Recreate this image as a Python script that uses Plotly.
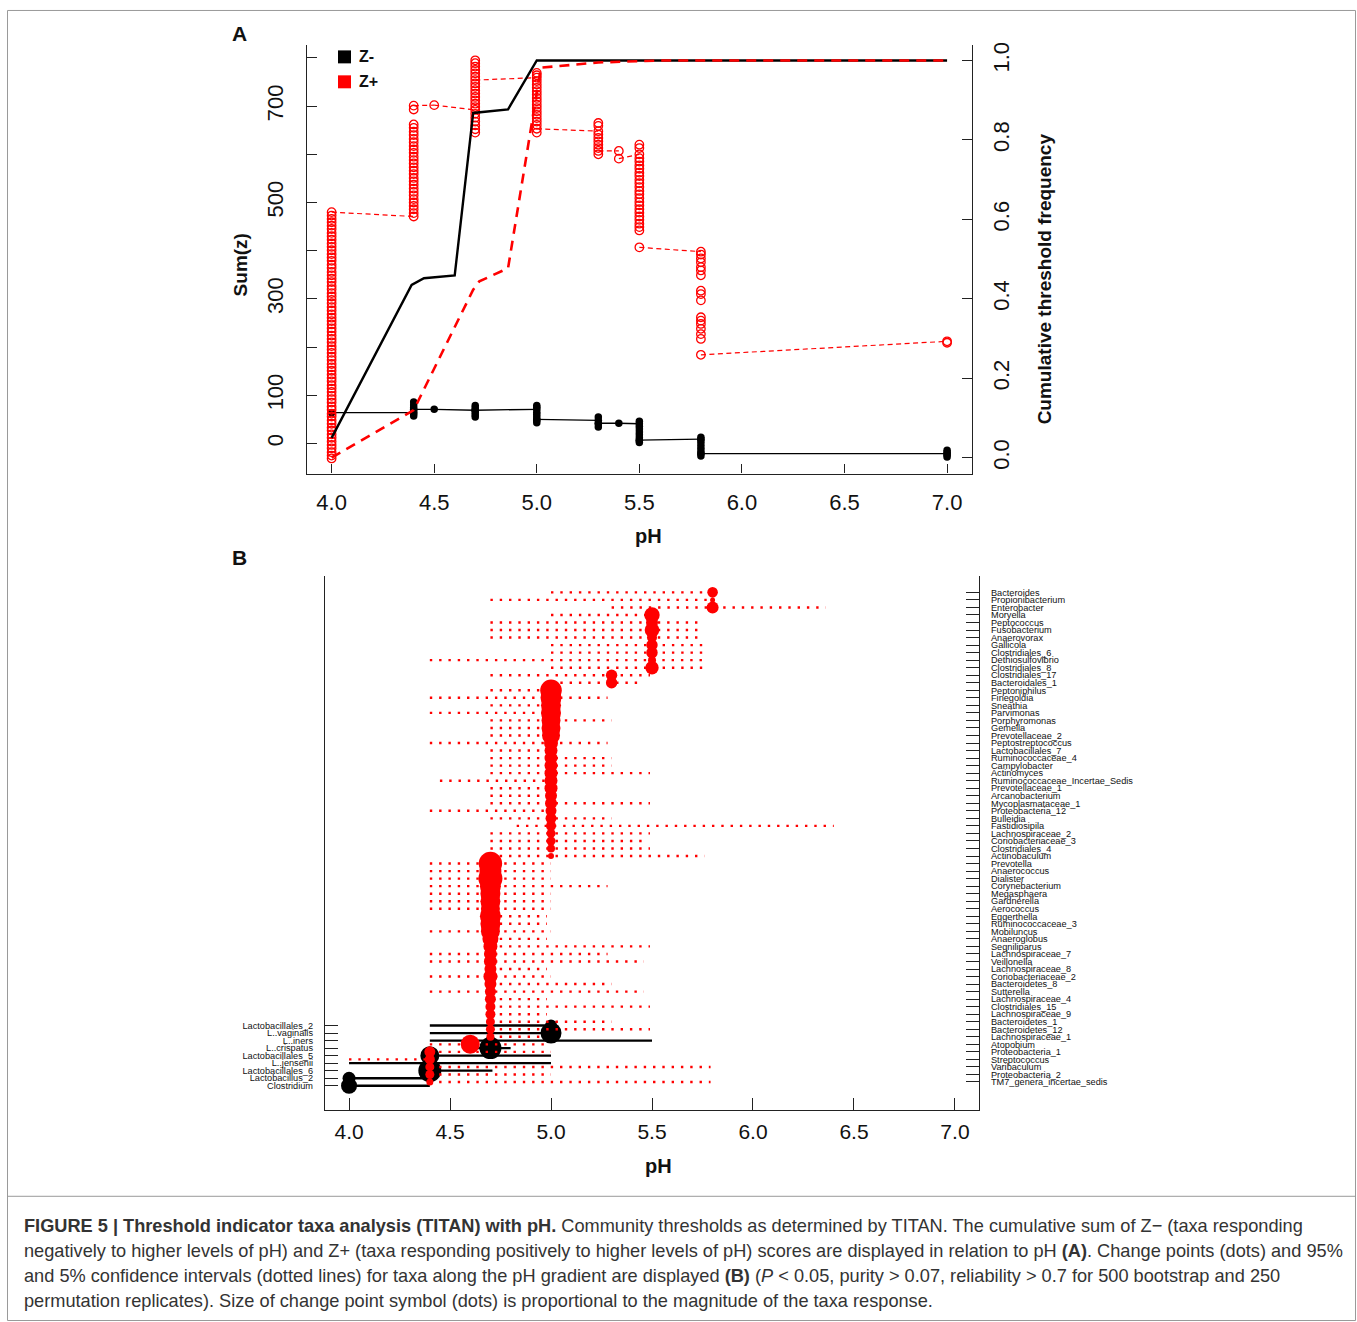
import plotly.graph_objects as go

W, H = 1357, 1322

# ---------------- Panel A data ----------------
ph_levels = [4.0, 4.4, 4.5, 4.7, 5.0, 5.3, 5.4, 5.5, 5.8, 7.0]

zplus_sumz = [
    [-31, -25, -18, -10, -3, 4, 12, 19, 27, 33, 41, 48, 56, 62, 70, 77, 85, 92, 99, 107, 114, 121,
     129, 136, 143, 151, 158, 165, 173, 180, 188, 195, 202, 210, 217, 224, 232, 239, 247, 254, 261,
     268, 276, 283, 291, 298, 305, 312, 320, 327, 335, 342, 349, 356, 364, 371, 379, 386, 393, 401,
     408, 415, 423, 430, 437, 445, 452, 459, 466, 473, 480],
    [471, 478, 486, 493, 500, 507, 515, 522, 529, 537, 544, 551, 559, 566, 573, 581, 588, 595, 603,
     610, 617, 625, 632, 640, 647, 655, 662, 693, 701],
    [702],
    [692, 684, 676, 668, 660, 652, 645, 698, 705, 712, 719, 726, 733, 740, 747, 761, 768, 775, 782,
     789, 795, 754],
    [759, 769, 764, 752, 745, 738, 731, 724, 717, 710, 703, 696, 689, 682, 675, 668, 661, 645, 653],
    [648, 665, 659, 641, 634, 627, 620, 613, 600, 607],
    [607, 591],
    [600, 620, 613, 592, 585, 577, 570, 562, 555, 547, 540, 532, 524, 517, 509, 501, 494, 486, 479,
     471, 464, 456, 449, 442, 407],
    [398, 392, 384, 376, 366, 359, 349, 317, 310, 297, 262, 255, 248, 238, 227, 217, 184],
    [212, 209],
]

zminus_sumz = [
    [64],
    [64, 57, 62, 68, 74, 80, 86, 71],
    [71],
    [69, 79, 74, 64, 59, 55, 69],
    [71, 79, 75, 65, 60, 55, 48, 43, 50],
    [48, 55, 41, 34, 42],
    [42],
    [41, 46, 36, 30, 24, 18, 12, 6, 2, 7],
    [9, 13, 5, -1, -7, -13, -19, -26, -21],
    [-21, -14, -18, -24, -28],
]

cum_minus_ph = [4.0, 4.39, 4.45, 4.60, 4.69, 4.86, 5.0, 7.0]
cum_minus_freq = [0.05, 0.435, 0.452, 0.459, 0.868, 0.877, 1.0, 1.0]
cum_plus_ph = [4.0, 4.4, 4.69, 4.72, 4.86, 5.02, 5.3, 5.6, 7.0]
cum_plus_freq = [0.0, 0.12, 0.423, 0.444, 0.477, 0.982, 0.995, 1.0, 1.0]

sumz_ticks = [0, 100, 200, 300, 400, 500, 600, 700, 800]
sumz_ticktext = ["0", "100", "", "300", "", "500", "", "700", ""]
freq_ticks = [0.0, 0.2, 0.4, 0.6, 0.8, 1.0]
ph_ticks = [4.0, 4.5, 5.0, 5.5, 6.0, 6.5, 7.0]

# ---------------- Panel B data ----------------
red_taxa = [
    "Bacteroides", "Propionibacterium", "Enterobacter", "Moryella", "Peptococcus", "Fusobacterium",
    "Anaerovorax", "Gallicola", "Clostridiales_6", "Dethiosulfovibrio", "Clostridiales_8",
    "Clostridiales_17", "Bacteroidales_1", "Peptoniphilus", "Finegoldia", "Sneathia", "Parvimonas",
    "Porphyromonas", "Gemella", "Prevotellaceae_2", "Peptostreptococcus", "Lactobacillales_7",
    "Ruminococcaceae_4", "Campylobacter", "Actinomyces", "Ruminococcaceae_Incertae_Sedis",
    "Prevotellaceae_1", "Arcanobacterium", "Mycoplasmataceae_1", "Proteobacteria_12", "Bulleidia",
    "Fastidiosipila", "Lachnospiraceae_2", "Coriobacteriaceae_3", "Clostridiales_4", "Actinobaculum",
    "Prevotella", "Anaerococcus", "Dialister", "Corynebacterium", "Megasphaera", "Gardnerella",
    "Aerococcus", "Eggerthella", "Ruminococcaceae_3", "Mobiluncus", "Anaeroglobus", "Segniliparus",
    "Lachnospiraceae_7", "Veillonella", "Lachnospiraceae_8", "Coriobacteriaceae_2", "Bacteroidetes_8",
    "Sutterella", "Lachnospiraceae_4", "Clostridiales_15", "Lachnospiraceae_9", "Bacteroidetes_1",
    "Bacteroidetes_12", "Lachnospiraceae_1", "Atopobium", "Proteobacteria_1", "Streptococcus",
    "Varibaculum", "Proteobacteria_2", "TM7_genera_incertae_sedis",
]
red_cp = ([5.8] * 3 + [5.5] * 8 + [5.3] * 2 + [5.0] * 23 + [4.7] * 24 + [4.6] + [4.4] * 5)
red_lo = [5.0, 4.7, 5.3, 5.0, 4.7, 4.7, 4.7, 5.0, 5.0, 4.4, 5.0, 4.7, 5.0,
          4.7, 4.4, 4.7, 4.4, 4.7, 4.7, 4.7, 4.4, 4.7, 4.7, 4.7, 4.7, 4.45, 4.7, 4.7, 4.7, 4.4,
          4.7, 4.83, 4.7, 4.7, 4.7, 4.7,
          4.4, 4.4, 4.4, 4.4, 4.4, 4.4, 4.4, 4.7, 4.7, 4.4, 4.7, 4.7, 4.4, 4.4, 4.7, 4.4, 4.7,
          4.4, 4.7, 4.7, 4.7, 4.7, 4.7, 4.7,
          4.4, 4.4, 4.0, 4.4, 4.4, 4.4]
red_hi = [5.8, 5.8, 6.36, 5.5, 5.75, 5.75, 5.75, 5.78, 5.78, 5.75, 5.75, 5.49, 5.45,
          5.0, 5.28, 5.0, 5.0, 5.3, 5.0, 5.0, 5.28, 5.0, 5.3, 5.3, 5.49, 5.0, 5.0, 5.0, 5.49, 5.0,
          5.3, 6.40, 5.49, 5.46, 5.49, 5.76,
          5.0, 5.0, 5.0, 5.28, 5.0, 5.0, 5.0, 4.98, 4.98, 5.0, 4.98, 5.49, 5.28, 5.46, 4.98, 5.0,
          5.3, 5.46, 4.98, 5.49, 4.98, 5.3, 5.49, 4.97,
          4.97, 5.0, 4.4, 5.79, 5.0, 5.79]
# magnitude of taxon response (symbol radius units)
red_resp = [5.3, 2.5, 6.0, 7.7, 6.0, 7.3, 5.0, 5.7, 5.7, 4.0, 6.7, 5.7, 5.7,
            10.8, 10.5, 10.0, 10.0, 9.5, 9.5, 9.0, 7.0, 6.5, 6.5, 6.5, 6.5, 6.5, 6.5, 6.0, 6.0,
            5.5, 5.5, 5.0, 4.5, 4.5, 4.0, 3.0,
            11.7, 11.0, 12.0, 10.5, 10.0, 10.0, 9.5, 10.5, 10.0, 9.5, 8.0, 7.0, 6.5, 6.5, 6.0,
            7.0, 6.0, 5.5, 5.5, 5.0, 5.0, 4.5, 4.5, 4.0,
            9.5, 5.5, 5.0, 4.5, 4.5, 3.5]

black_taxa = ["Lactobacillales_2", "L..vaginalis", "L..iners", "L..crispatus", "Lactobacillales_5",
              "L..jensenii", "Lactobacillales_6", "Lactobacillus_2", "Clostridium"]
black_cp = [5.0, 5.0, 4.7, 4.7, 4.4, 4.4, 4.4, 4.0, 4.0]
black_lo = [4.4, 4.4, 4.4, 4.6, 4.4, 4.0, 4.4, 4.0, 4.0]
black_hi = [5.0, 5.0, 5.5, 4.8, 5.0, 5.0, 4.71, 4.4, 4.4]
black_resp = [6.0, 10.5, 5.0, 11.0, 9.5, 6.0, 11.5, 6.5, 8.0]

# ---------------- helpers ----------------
def px_x(px):
    return px / W

def px_y(py):
    return 1 - py / H

fig = go.Figure()

def connectors(stacks):
    xs, ys = [], []
    for i in range(len(stacks) - 1):
        xs += [ph_levels[i], ph_levels[i + 1], None]
        ys += [stacks[i][-1], stacks[i + 1][0], None]
    return xs, ys

cx, cy = connectors(zplus_sumz)
fig.add_trace(go.Scatter(x=cx, y=cy, mode="lines", xaxis="x", yaxis="y",
                         line=dict(color="#ff0000", width=1.2, dash="5px,3.5px"),
                         showlegend=False, hoverinfo="skip"))
cx, cy = connectors(zminus_sumz)
fig.add_trace(go.Scatter(x=cx, y=cy, mode="lines", xaxis="x", yaxis="y",
                         line=dict(color="#000000", width=1.3),
                         showlegend=False, hoverinfo="skip"))

bx, by = [], []
for p, vals in zip(ph_levels, zminus_sumz):
    bx += [p] * len(vals)
    by += vals
fig.add_trace(go.Scatter(x=bx, y=by, mode="markers", xaxis="x", yaxis="y",
                         marker=dict(symbol="circle", size=7.5, color="#000000", opacity=1),
                         showlegend=False))
rx, ry = [], []
for p, vals in zip(ph_levels, zplus_sumz):
    rx += [p] * len(vals)
    ry += vals
fig.add_trace(go.Scatter(x=rx, y=ry, mode="markers", xaxis="x", yaxis="y",
                         marker=dict(symbol="circle-open", size=8.5, color="#ff0000", opacity=1,
                                     line=dict(width=1.3, color="#ff0000")),
                         showlegend=False))

fig.add_trace(go.Scatter(x=cum_minus_ph, y=cum_minus_freq, mode="lines", xaxis="x", yaxis="y2",
                         line=dict(color="#000000", width=2.4), showlegend=False))
fig.add_trace(go.Scatter(x=cum_plus_ph, y=cum_plus_freq, mode="lines", xaxis="x", yaxis="y2",
                         line=dict(color="#ff0000", width=2.6, dash="10px,7px"), showlegend=False))

# Panel B
red_pos = list(range(1, len(red_taxa) + 1))
black_pos = [len(red_taxa) - len(black_taxa) + 1.5 + j for j in range(len(black_taxa))]

dx, dy = [], []
for lo, hi, pos in zip(red_lo, red_hi, red_pos):
    dx += [lo, hi, None]
    dy += [pos, pos, None]
fig.add_trace(go.Scatter(x=dx, y=dy, mode="lines", xaxis="x2", yaxis="y4",
                         line=dict(color="#ff0000", width=2.4, dash="2.4px,6.9px"),
                         showlegend=False, hoverinfo="skip"))
lx, ly = [], []
for lo, hi, pos in zip(black_lo, black_hi, black_pos):
    lx += [lo, hi, None]
    ly += [pos, pos, None]
fig.add_trace(go.Scatter(x=lx, y=ly, mode="lines", xaxis="x2", yaxis="y3",
                         line=dict(color="#000000", width=2.3),
                         showlegend=False, hoverinfo="skip"))
fig.add_trace(go.Scatter(x=black_cp, y=black_pos, mode="markers", xaxis="x2", yaxis="y3",
                         marker=dict(symbol="circle", color="#000000", opacity=1,
                                     size=[2 * r for r in black_resp], line=dict(width=0)),
                         showlegend=False))
fig.add_trace(go.Scatter(x=red_cp, y=red_pos, mode="markers", xaxis="x2", yaxis="y4",
                         marker=dict(symbol="circle", color="#ff0000", opacity=1,
                                     size=[2 * r for r in red_resp], line=dict(width=0)),
                         showlegend=False))

axis_common = dict(showgrid=False, zeroline=False, showline=True, linecolor="#222222",
                   linewidth=1.3, ticks="inside", tickcolor="#222222", tickwidth=1.3)
tick_font = dict(family="Liberation Sans, Arial, sans-serif", size=22, color="#111111")
taxa_font = dict(family="Liberation Sans, Arial, sans-serif", size=9.2, color="#111111")

yB_range = [1 + (1109.3 - 590.7) / 7.55, 1 - (590.7 - 574) / 7.55]

fig.update_layout(
    width=W, height=H, autosize=False,
    margin=dict(l=0, r=0, t=0, b=0),
    paper_bgcolor="white", plot_bgcolor="white",
    showlegend=False,
    xaxis=dict(domain=[px_x(307), px_x(971.7)], range=[3.88, 7.12], anchor="y",
               tickvals=ph_ticks, ticktext=[f"{v:.1f}" for v in ph_ticks], ticklen=9,
               tickfont=tick_font, ticklabelstandoff=9, **axis_common),
    yaxis=dict(domain=[px_y(471.7), px_y(41.7)], range=[-62.5, 827.6], anchor="x",
               tickvals=sumz_ticks, ticktext=sumz_ticktext, ticklen=10, tickangle=-90,
               tickfont=tick_font, ticklabelstandoff=14, **axis_common),
    yaxis2=dict(overlaying="y", side="right", anchor="x", range=[-0.04, 1.04],
                tickvals=freq_ticks, ticktext=[f"{v:.1f}" for v in freq_ticks], ticklen=10,
                tickangle=-90, tickfont=tick_font, ticklabelstandoff=10, **axis_common),
    xaxis2=dict(domain=[px_x(325), px_x(979)], range=[3.881, 7.119], anchor="y3",
                tickvals=ph_ticks, ticktext=[f"{v:.1f}" for v in ph_ticks], ticklen=12,
                tickfont=dict(family="Liberation Sans, Arial, sans-serif", size=21, color="#111111"),
                ticklabelstandoff=3, **axis_common),
    yaxis3=dict(domain=[px_y(1109.3), px_y(574)], range=yB_range, anchor="x2", side="left",
                tickvals=black_pos, ticktext=black_taxa, ticklen=13, tickfont=taxa_font,
                ticklabelstandoff=9, **axis_common),
    yaxis4=dict(overlaying="y3", side="right", anchor="x2", range=yB_range,
                tickvals=red_pos, ticktext=red_taxa, ticklen=13, tickfont=taxa_font,
                ticklabelstandoff=9, **axis_common),
)

ann_font = "Liberation Sans, Arial, sans-serif"
def ann(text, x, y, size, rot=0, bold=True, xanchor="center", color="#111111"):
    fig.add_annotation(text=f"<b>{text}</b>" if bold else text, x=px_x(x), y=px_y(y),
                       xref="paper", yref="paper", showarrow=False, textangle=rot,
                       xanchor=xanchor, yanchor="middle",
                       font=dict(family=ann_font, size=size, color=color))

ann("A", 239, 31, 21)
ann("B", 239, 556, 21)
ann("Sum(z)", 240, 263, 19, rot=-90)
ann("Cumulative threshold frequency", 1044, 277, 19, rot=-90)
ann("pH", 648, 534, 20)
ann("pH", 658, 1166, 20)
ann("Z-", 357, 54, 16, xanchor="left")
ann("Z+", 357, 79, 16, xanchor="left")

shapes = [
    dict(type="rect", xref="paper", yref="paper", x0=px_x(338), x1=px_x(351),
         y0=px_y(60.5), y1=px_y(47.5), fillcolor="#000000", line=dict(width=0)),
    dict(type="rect", xref="paper", yref="paper", x0=px_x(338), x1=px_x(351),
         y0=px_y(85.5), y1=px_y(72.5), fillcolor="#ff0000", line=dict(width=0)),
    dict(type="rect", xref="paper", yref="paper", x0=px_x(7.5), x1=px_x(1355.5),
         y0=px_y(1320.5), y1=px_y(7.5), line=dict(color="#9a9a9a", width=1)),
    dict(type="line", xref="paper", yref="paper", x0=px_x(7.5), x1=px_x(1355.5),
         y0=px_y(1196), y1=px_y(1196), line=dict(color="#9a9a9a", width=1)),
]
fig.update_layout(shapes=shapes)

caption = [
    "<b>FIGURE 5 | Threshold indicator taxa analysis (TITAN) with pH.</b> Community thresholds as "
    "determined by TITAN. The cumulative sum of Z\u2212 (taxa responding",
    "negatively to higher levels of pH) and Z+ (taxa responding positively to higher levels of pH) "
    "scores are displayed in relation to pH <b>(A)</b>. Change points (dots) and 95%",
    "and 5% confidence intervals (dotted lines) for taxa along the pH gradient are displayed "
    "<b>(B)</b> (<i>P</i> &lt; 0.05, purity &gt; 0.07, reliability &gt; 0.7 for 500 bootstrap and 250",
    "permutation replicates). Size of change point symbol (dots) is proportional to the magnitude "
    "of the taxa response.",
]
for i, line in enumerate(caption):
    fig.add_annotation(text=line, x=px_x(22), y=px_y(1226 + 25 * i), xref="paper", yref="paper",
                       showarrow=False, xanchor="left", yanchor="middle", align="left",
                       font=dict(family=ann_font, size=18.2, color="#333333"))

fig.write_html("out.html")
